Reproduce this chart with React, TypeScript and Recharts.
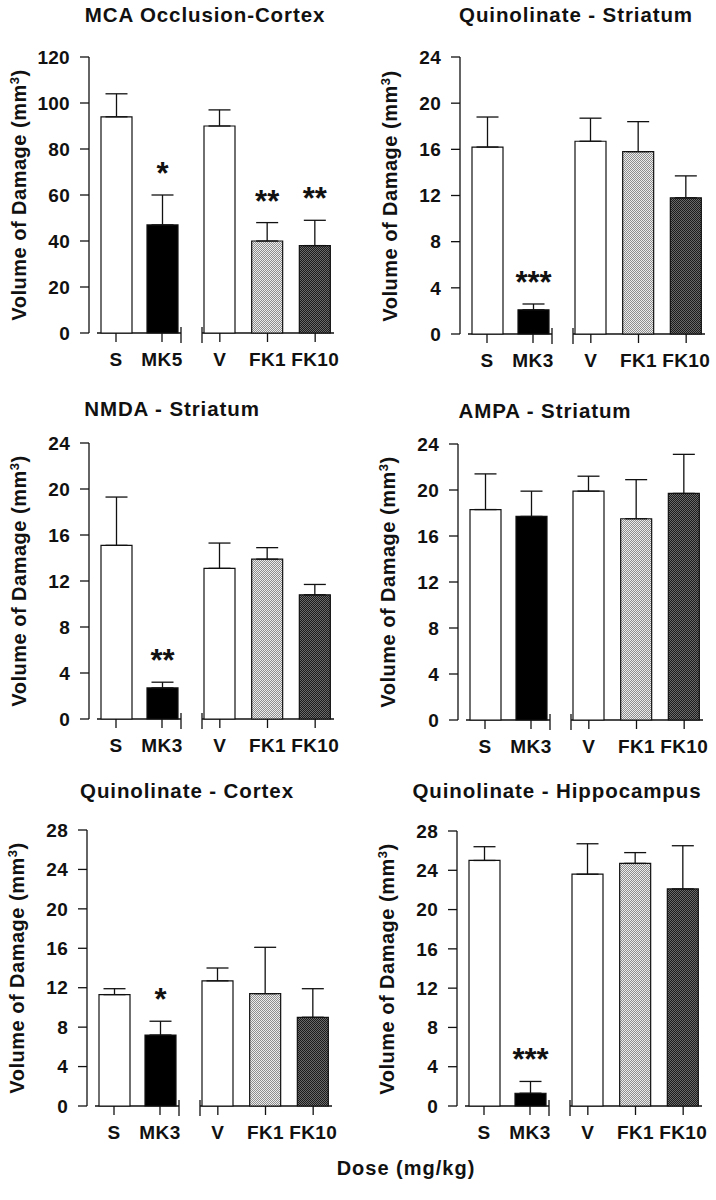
import React from 'react';
import { BarChart, Bar, XAxis, YAxis, ErrorBar, LabelList, Cell, usePlotArea } from 'recharts';

const INK = '#111';
const FONT = '"Liberation Sans", Arial, Helvetica, sans-serif';

// dose groups on the x axis
const mk5Doses = ['S', 'MK5', 'V', 'FK1', 'FK10'];
const mk3Doses = ['S', 'MK3', 'V', 'FK1', 'FK10'];

// MCA occlusion - cortex (mm3), mean and SEM
const mcaMean = [94, 47, 90, 40, 38];
const mcaSem = [10, 13, 7, 8, 11];
const mcaSig = ['', '*', '', '**', '**'];

// quinolinate - striatum
const qStrMean = [16.2, 2.1, 16.7, 15.8, 11.8];
const qStrSem = [2.6, 0.5, 2.0, 2.6, 1.9];
const qStrSig = ['', '***', '', '', ''];

// NMDA - striatum
const nmdaMean = [15.1, 2.7, 13.1, 13.9, 10.8];
const nmdaSem = [4.2, 0.5, 2.2, 1.0, 0.9];
const nmdaSig = ['', '**', '', '', ''];

// AMPA - striatum
const ampaMean = [18.3, 17.7, 19.9, 17.5, 19.7];
const ampaSem = [3.1, 2.2, 1.3, 3.4, 3.4];
const ampaSig = ['', '', '', '', ''];

// quinolinate - cortex
const qCtxMean = [11.3, 7.2, 12.7, 11.4, 9.0];
const qCtxSem = [0.6, 1.4, 1.3, 4.7, 2.9];
const qCtxSig = ['', '*', '', '', ''];

// quinolinate - hippocampus
const qHipMean = [25.0, 1.3, 23.6, 24.7, 22.1];
const qHipSem = [1.4, 1.2, 3.1, 1.1, 4.4];
const qHipSig = ['', '***', '', '', ''];

const ticks120 = [0, 20, 40, 60, 80, 100, 120];
const ticks24 = [0, 4, 8, 12, 16, 20, 24];
const ticks28 = [0, 4, 8, 12, 16, 20, 24, 28];

const barFills = ['#ffffff', '#000000', '#ffffff', 'url(#stippleLight)', 'url(#stippleDark)'];

const Y_AXIS_W = 89;
const TOP_PAD = 10;
const X_AXIS_H = 50;
const LEFT_W = 96;
const RIGHT_X = 107;
const RIGHT_W = 143;

const yTickStyle = { fill: INK, fontSize: 19, fontWeight: 700, letterSpacing: 0.3 };
const xTickStyle = { fill: INK, fontSize: 19, fontWeight: 700, letterSpacing: 0.4 };

type Row = { dose: string; mean: number; sem: number; err: number[]; sig: string };

const AxisSegment = ({ startInset, endInset, breakAt }: { startInset: number; endInset: number; breakAt: 'start' | 'end' }) => {
  const area = usePlotArea();
  if (!area) return null;
  const y = area.y + area.height;
  const x1 = area.x + startInset;
  const x2 = area.x + area.width - endInset;
  const bx = breakAt === 'end' ? x2 : x1;
  return (
    <g>
      <line x1={x1} x2={x2} y1={y} y2={y} stroke={INK} strokeWidth={1.3} />
      <line x1={bx} x2={bx} y1={y - 6} y2={y + 10} stroke={INK} strokeWidth={1.3} />
    </g>
  );
};

const starLabel = (rows: Row[]) => (props: any) => {
  const { x, y, width, height, index } = props;
  const row = rows[index];
  if (!row || !row.sig) return null;
  const perUnit = row.mean ? Number(height) / row.mean : 0;
  const top = Number(y) - row.sem * perUnit;
  return (
    <text x={Number(x) + Number(width) / 2} y={top - 11} textAnchor="middle" fontSize={31} fontWeight={700} fill={INK}>
      {row.sig}
    </text>
  );
};

const groupBars = (rows: Row[], offset: number) => (
  <Bar dataKey="mean" barSize={31} stroke={INK} strokeWidth={1.2} isAnimationActive={false}>
    {rows.map((r, i) => (
      <Cell key={r.dose} fill={barFills[i + offset]} />
    ))}
    <ErrorBar dataKey="err" width={11} stroke={INK} strokeWidth={1.3} direction="y" />
    <LabelList dataKey="sig" content={starLabel(rows)} />
  </Bar>
);

type Layout = { axisX: number; plotTop: number; plotBottom: number; titleX: number; titleY: number };

const Panel = ({ title, doses, mean, sem, sig, ticks, layout }: {
  title: string; doses: string[]; mean: number[]; sem: number[]; sig: string[]; ticks: number[]; layout: Layout;
}) => {
  const rows: Row[] = doses.map((dose, i) => ({ dose, mean: mean[i], sem: sem[i], err: [0, sem[i]], sig: sig[i] }));
  const left = rows.slice(0, 2);
  const right = rows.slice(2);
  const yMax = ticks[ticks.length - 1];
  const plotH = layout.plotBottom - layout.plotTop;
  const h = TOP_PAD + plotH + X_AXIS_H;
  const top = layout.plotTop - TOP_PAD;
  const margin = { top: TOP_PAD, right: 0, bottom: 0, left: 0 };

  return (
    <>
      <div style={{ position: 'absolute', left: layout.titleX, top: layout.titleY - 10, transform: 'translateX(-50%)', fontSize: 20.5, lineHeight: '20px', fontWeight: 700, letterSpacing: 0.9, whiteSpace: 'nowrap' }}>
        {title}
      </div>
      <div style={{ position: 'absolute', left: layout.axisX - 70, top: (layout.plotTop + layout.plotBottom) / 2, transform: 'translate(-50%, -50%) rotate(-90deg)', fontSize: 20, lineHeight: '24px', fontWeight: 700, letterSpacing: 0.5, whiteSpace: 'nowrap' }}>
        Volume of Damage (mm<sup style={{ fontSize: 13, lineHeight: 0, verticalAlign: 7 }}>3</sup>)
      </div>
      <div style={{ position: 'absolute', left: layout.axisX - Y_AXIS_W, top }}>
        <BarChart width={Y_AXIS_W + LEFT_W} height={h} data={left} margin={margin}>
          <XAxis dataKey="dose" height={X_AXIS_H} axisLine={false} tickLine={{ stroke: INK, strokeWidth: 1.3 }} tickSize={9} tickMargin={11} tick={xTickStyle} padding={{ left: 4, right: 0 }} interval={0} />
          <YAxis width={Y_AXIS_W} domain={[0, yMax]} ticks={ticks} interval={0} axisLine={{ stroke: INK, strokeWidth: 1.3 }} tickLine={{ stroke: INK, strokeWidth: 1.3 }} tickSize={9} tickMargin={10} tick={yTickStyle} />
          {groupBars(left, 0)}
          <AxisSegment startInset={8} endInset={4} breakAt="end" />
        </BarChart>
      </div>
      <div style={{ position: 'absolute', left: layout.axisX + RIGHT_X, top }}>
        <BarChart width={RIGHT_W} height={h} data={right} margin={margin}>
          <XAxis dataKey="dose" height={X_AXIS_H} axisLine={false} tickLine={{ stroke: INK, strokeWidth: 1.3 }} tickSize={9} tickMargin={11} tick={xTickStyle} interval={0} />
          <YAxis hide domain={[0, yMax]} ticks={ticks} />
          {groupBars(right, 2)}
          <AxisSegment startInset={6} endInset={5} breakAt="start" />
        </BarChart>
      </div>
    </>
  );
};

export default function App() {
  return (
    <div style={{ position: 'absolute', left: 0, top: 0, width: 716, height: 1200, background: '#fff', fontFamily: FONT, color: INK }}>
      <svg width={0} height={0} style={{ position: 'absolute' }}>
        <defs>
          <pattern id="stippleLight" width={2} height={2} patternUnits="userSpaceOnUse">
            <rect width={2} height={2} fill="#ececec" />
            <rect width={1} height={1} fill="#8e8e8e" />
            <rect x={1} y={1} width={1} height={1} fill="#8e8e8e" />
          </pattern>
          <pattern id="stippleDark" width={2} height={2} patternUnits="userSpaceOnUse">
            <rect width={2} height={2} fill="#6a6a6a" />
            <rect width={1} height={1} fill="#1c1c1c" />
            <rect x={1} y={1} width={1} height={1} fill="#1c1c1c" />
          </pattern>
        </defs>
      </svg>
      <Panel title="MCA Occlusion-Cortex" doses={mk5Doses} mean={mcaMean} sem={mcaSem} sig={mcaSig} ticks={ticks120}
        layout={{ axisX: 89, plotTop: 57, plotBottom: 333, titleX: 205, titleY: 15 }} />
      <Panel title="Quinolinate - Striatum" doses={mk3Doses} mean={qStrMean} sem={qStrSem} sig={qStrSig} ticks={ticks24}
        layout={{ axisX: 460, plotTop: 57, plotBottom: 334, titleX: 576, titleY: 15 }} />
      <Panel title="NMDA - Striatum" doses={mk3Doses} mean={nmdaMean} sem={nmdaSem} sig={nmdaSig} ticks={ticks24}
        layout={{ axisX: 89, plotTop: 443, plotBottom: 719, titleX: 172, titleY: 409 }} />
      <Panel title="AMPA - Striatum" doses={mk3Doses} mean={ampaMean} sem={ampaSem} sig={ampaSig} ticks={ticks24}
        layout={{ axisX: 458, plotTop: 444, plotBottom: 720, titleX: 545, titleY: 411 }} />
      <Panel title="Quinolinate - Cortex" doses={mk3Doses} mean={qCtxMean} sem={qCtxSem} sig={qCtxSig} ticks={ticks28}
        layout={{ axisX: 87, plotTop: 830, plotBottom: 1106, titleX: 187, titleY: 791 }} />
      <Panel title="Quinolinate - Hippocampus" doses={mk3Doses} mean={qHipMean} sem={qHipSem} sig={qHipSig} ticks={ticks28}
        layout={{ axisX: 457, plotTop: 831, plotBottom: 1106, titleX: 557, titleY: 791 }} />
      <div style={{ position: 'absolute', left: 406, top: 1158, transform: 'translateX(-50%)', fontSize: 20, lineHeight: '20px', fontWeight: 700, letterSpacing: 1, whiteSpace: 'nowrap' }}>
        Dose (mg/kg)
      </div>
    </div>
  );
}
